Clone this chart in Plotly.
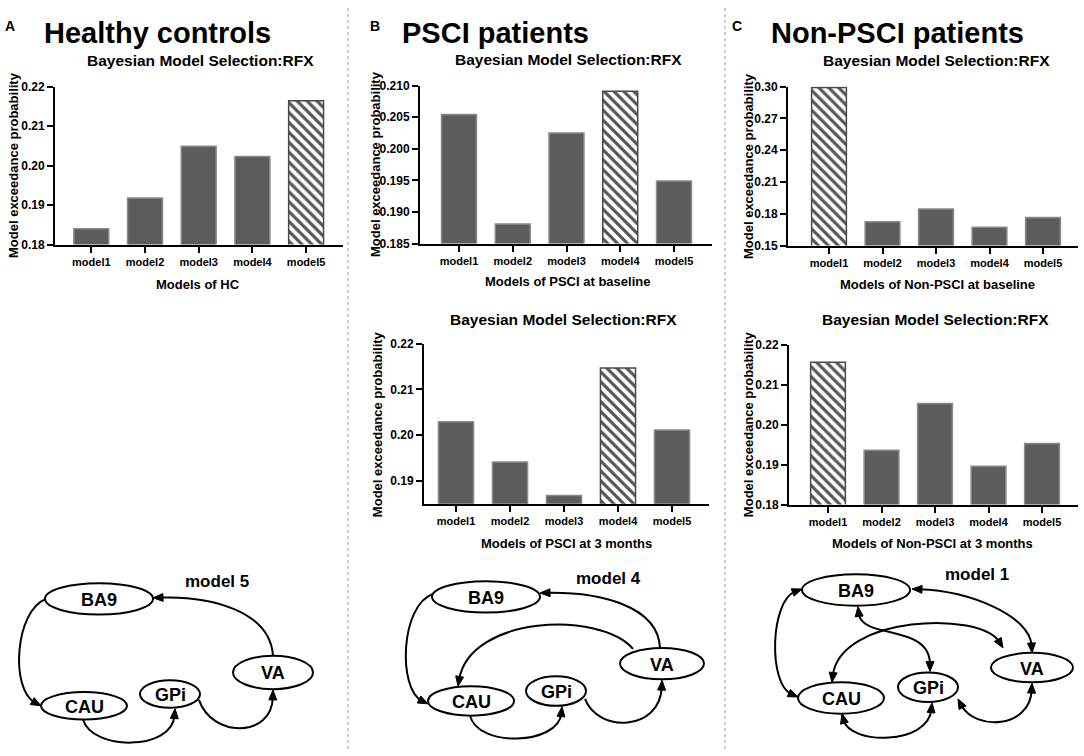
import plotly.graph_objects as go

# ---------------- data ----------------
categories = ["model1", "model2", "model3", "model4", "model5"]

hc_values = [0.1840, 0.1918, 0.2049, 0.2023, 0.2164]
hc_best = 4
psci_base_values = [0.2054, 0.1881, 0.2025, 0.2091, 0.1949]
psci_base_best = 3
nonpsci_base_values = [0.2990, 0.1725, 0.1845, 0.1672, 0.1765]
nonpsci_base_best = 0
psci_3m_values = [0.2029, 0.1941, 0.1868, 0.2147, 0.2011]
psci_3m_best = 3
nonpsci_3m_values = [0.2156, 0.1936, 0.2053, 0.1896, 0.1953]
nonpsci_3m_best = 0

group_titles = ["Healthy controls", "PSCI patients", "Non-PSCI patients"]
panel_letters = ["A", "B", "C"]
chart_title = "Bayesian Model Selection:RFX"
y_title = "Model exceedance probability"
x_titles = ["Models of HC", "Models of PSCI at baseline", "Models of Non-PSCI at baseline",
            "Models of PSCI at 3 months", "Models of Non-PSCI at 3 months"]
diagram_labels = ["model 5", "model 4", "model 1"]
node_names = ["BA9", "CAU", "GPi", "VA"]

# ---------------- layout helpers ----------------
W, H = 1084, 756
FONT = "Liberation Sans, Arial, sans-serif"


def px(x):
    return x / W


def py(y):
    return 1 - y / H


panels = [
    dict(values=hc_values, best=hc_best, xt=x_titles[0], box=(55, 343, 81, 242),
         yr=[0.18, 0.22], tick0=0.18, dtick=0.01, fmt=".2f", c0=91.3, step=53.7),
    dict(values=psci_base_values, best=psci_base_best, xt=x_titles[1], box=(420, 712, 80, 241),
         yr=[0.185, 0.210], tick0=0.185, dtick=0.005, fmt=".3f", c0=459, step=53.75),
    dict(values=nonpsci_base_values, best=nonpsci_base_best, xt=x_titles[2], box=(788, 1078, 81, 243),
         yr=[0.15, 0.30], tick0=0.15, dtick=0.03, fmt=".2f", c0=829, step=53.5),
    dict(values=psci_3m_values, best=psci_3m_best, xt=x_titles[3], box=(424, 709, 343, 506),
         yr=[0.185, 0.22], tick0=0.19, dtick=0.01, fmt=".2f", c0=456, step=54),
    dict(values=nonpsci_3m_values, best=nonpsci_3m_best, xt=x_titles[4], box=(789, 1078, 344, 507),
         yr=[0.18, 0.22], tick0=0.18, dtick=0.01, fmt=".2f", c0=828, step=53.5),
]

fig = go.Figure()
layout = dict(width=W, height=H, margin=dict(l=0, r=0, t=0, b=0),
              paper_bgcolor="white", plot_bgcolor="white", showlegend=False,
              barmode="overlay", font=dict(family=FONT, color="black"))
annotations = []
shapes = []


def text(x, y, s, size, angle=0):
    annotations.append(dict(x=px(x), y=py(y), xref="paper", yref="paper", showarrow=False,
                            xanchor="center", yanchor="middle", textangle=angle,
                            text="<b>" + s + "</b>",
                            font=dict(family=FONT, size=size, color="black")))


for i, p in enumerate(panels):
    sfx = "" if i == 0 else str(i + 1)
    n = len(categories)
    shape_list = ["\\" if k == p["best"] else "" for k in range(n)]
    line_cols = ["#4a4a4a" if k == p["best"] else "#8a8a8a" for k in range(n)]
    fig.add_trace(go.Bar(
        x=categories, y=p["values"], width=0.65,
        xaxis="x" + sfx, yaxis="y" + sfx,
        marker=dict(color="#5c5c5c", line=dict(color=line_cols, width=1.5),
                    pattern=dict(shape=shape_list, fgcolor="#555555", bgcolor="white",
                                 size=7, solidity=0.45, fillmode="replace")),
        hoverinfo="skip"))
    x0, x1, y0, y1 = p["box"]
    r0 = (x0 - p["c0"]) / p["step"]
    r1 = (x1 - p["c0"]) / p["step"]
    layout["xaxis" + sfx] = dict(
        domain=[px(x0), px(x1)], anchor="y" + sfx, type="category", range=[r0, r1],
        showline=True, linecolor="black", linewidth=2, ticks="outside", ticklen=6,
        tickwidth=2, tickcolor="black", showgrid=False, zeroline=False,
        tickfont=dict(family=FONT, size=11, weight="bold", color="black"))
    layout["yaxis" + sfx] = dict(
        domain=[py(y1), py(y0)], anchor="x" + sfx, range=p["yr"],
        tick0=p["tick0"], dtick=p["dtick"], tickformat=p["fmt"],
        showline=True, linecolor="black", linewidth=2, ticks="outside", ticklen=6,
        tickwidth=2, tickcolor="black", showgrid=False, zeroline=False,
        tickfont=dict(family=FONT, size=12, weight="bold", color="black"))

# panel texts (positions in pixels)
title_pos = [(200, 55), (568, 53), (936, 55), (564, 318), (935, 318)]
xtitle_pos = [(198, 283), (567, 280), (937, 283), (566, 547), (932, 547)]
ytitle_pos = [(13, 161), (375, 160), (748, 162), (377, 425), (748, 425)]
for i in range(5):
    text(*title_pos[i], chart_title, 15.5)
    text(*xtitle_pos[i], panels[i]["xt"], 13)
    text(*ytitle_pos[i], y_title, 13, angle=-90)

group_pos = [(157, 26), (495, 26), (897, 26)]
letter_pos = [(10, 19), (375, 19), (737, 19)]
for i in range(3):
    text(*group_pos[i], group_titles[i], 29)
    text(*letter_pos[i], panel_letters[i], 14)

# dotted separators
for sx in (348, 725):
    shapes.append(dict(type="line", xref="paper", yref="paper", x0=px(sx), x1=px(sx), y0=0, y1=1,
                       line=dict(color="#9a9a9a", width=1, dash="dot")))

# ---------------- network diagrams ----------------
HEAD_L, HEAD_W = 10, 8
curve_shapes, node_shapes, head_shapes = [], [], []


def head(tip, frm):
    dx, dy = tip[0] - frm[0], tip[1] - frm[1]
    d = (dx * dx + dy * dy) ** 0.5
    ux, uy = dx / d, dy / d
    nx, ny = -uy, ux
    bx, by = tip[0] - HEAD_L * ux, tip[1] - HEAD_L * uy
    pts = [tip, (bx + nx * HEAD_W / 2, by + ny * HEAD_W / 2), (bx - nx * HEAD_W / 2, by - ny * HEAD_W / 2)]
    path = "M {:.5f},{:.5f} L {:.5f},{:.5f} L {:.5f},{:.5f} Z".format(
        px(pts[0][0]), py(pts[0][1]), px(pts[1][0]), py(pts[1][1]), px(pts[2][0]), py(pts[2][1]))
    head_shapes.append(dict(type="path", xref="paper", yref="paper", path=path,
                            fillcolor="black", line=dict(color="black", width=1)))
    return (tip[0] - 0.7 * HEAD_L * ux, tip[1] - 0.7 * HEAD_L * uy)


def curve(p0, c1, c2, p3, end=True, start=False):
    if end:
        p3 = head(p3, c2)
    if start:
        p0 = head(p0, c1)
    path = "M {:.5f},{:.5f} C {:.5f},{:.5f} {:.5f},{:.5f} {:.5f},{:.5f}".format(
        px(p0[0]), py(p0[1]), px(c1[0]), py(c1[1]), px(c2[0]), py(c2[1]), px(p3[0]), py(p3[1]))
    curve_shapes.append(dict(type="path", xref="paper", yref="paper", path=path,
                             line=dict(color="black", width=2)))


def node(name, cx, cy, rx, ry):
    node_shapes.append(dict(type="circle", xref="paper", yref="paper",
                            x0=px(cx - rx), x1=px(cx + rx), y0=py(cy + ry), y1=py(cy - ry),
                            fillcolor="white", line=dict(color="black", width=2)))
    text(cx, cy + 1, name, 18)


diagrams = [
    dict(nodes=[(99, 603, 54, 16), (84, 712, 43, 14), (170, 700, 30, 14), (273, 678, 40, 17)],
         label=(217, 585)),
    dict(nodes=[(486, 601, 54, 16), (471, 707, 43, 15), (556, 697, 30, 15), (662, 669, 42, 16)],
         label=(608, 582)),
    dict(nodes=[(856, 594, 54, 16), (841, 704, 43, 16), (928, 693, 30, 15), (1032, 673, 41, 15)],
         label=(977, 578)),
]

# model 5 (HC)
curve((46, 603), (15, 615), (10, 695), (41, 712))
curve((83, 726), (92, 758), (172, 758), (175, 715))
curve((199, 706), (212, 745), (272, 745), (273, 696))
curve((273, 661), (270, 615), (210, 600), (153, 602))
# model 4 (PSCI)
curve((433, 598), (400, 610), (398, 695), (428, 710))
curve((470, 722), (478, 755), (558, 752), (562, 713))
curve((585, 705), (598, 740), (660, 738), (662, 686))
curve((660, 653), (658, 610), (600, 596), (540, 597))
curve((633, 654), (600, 615), (470, 620), (458, 692))
# model 1 (Non-PSCI)
curve((802, 593), (770, 605), (768, 690), (798, 703), start=True)
curve((912, 593), (970, 595), (1030, 620), (1032, 658), start=True)
curve((858, 611), (862, 645), (930, 628), (930, 677), start=True)
curve((832, 688), (840, 620), (980, 615), (1003, 653), start=True)
curve((842, 720), (850, 752), (928, 752), (932, 709), start=True)
curve((958, 705), (975, 738), (1030, 735), (1032, 689), start=True)

for d, lab in zip(diagrams, diagram_labels):
    for name, (cx, cy, rx, ry) in zip(node_names, d["nodes"]):
        node(name, cx, cy, rx, ry)
    text(*d["label"], lab, 17)

layout["shapes"] = shapes + curve_shapes + node_shapes + head_shapes
layout["annotations"] = annotations
fig.update_layout(**layout)
fig.write_html("out.html", config={"displayModeBar": False},
               post_script="document.body.style.margin='0';document.body.style.overflow='hidden';")
